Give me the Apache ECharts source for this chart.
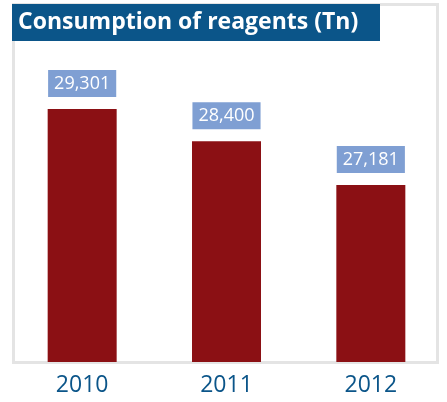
<!DOCTYPE html>
<html>
<head>
<meta charset="utf-8">
<script src="https://cdn.jsdelivr.net/npm/echarts@6/dist/echarts.min.js"></script>
<style>
  html, body { margin: 0; padding: 0; background: #fff; }
  #chart { width: 447px; height: 402px; }
</style>
</head>
<body>
<div id="chart"></div>
<script>
var years = ["2010", "2011", "2012"];
var reagents = [29301, 28400, 27181];
var titleText = "Consumption of reagents (Tn)";

var chart = echarts.init(document.getElementById("chart"));

var option = {
  animation: false,
  textStyle: { fontFamily: "Open Sans" },
  grid: { left: 10, right: 4, top: 40, bottom: 40 },
  graphic: [
    {
      type: "rect",
      shape: { x: 13.5, y: 4.5, width: 424, height: 358 },
      style: { fill: "none", stroke: "#e4e4e4", lineWidth: 3 },
      z: 0
    },
    {
      type: "rect",
      shape: { x: 12, y: 4, width: 368, height: 37 },
      style: { fill: "#0b5589" },
      z: 10
    },
    {
      type: "text",
      left: 18,
      top: 11,
      style: {
        text: titleText,
        fill: "#fff",
        font: "bold 23px 'Open Sans'"
      },
      z: 11
    }
  ],
  xAxis: {
    type: "category",
    data: years,
    axisLine: { show: false },
    axisTick: { show: false },
    axisLabel: {
      color: "#0b5589",
      fontSize: 23,
      margin: 12
    }
  },
  yAxis: {
    type: "value",
    min: 22250,
    max: 31224,
    show: false,
    splitLine: { show: false }
  },
  series: [
    {
      type: "bar",
      data: reagents,
      barWidth: 69,
      itemStyle: { color: "#8b1014" },
      label: {
        show: true,
        position: "top",
        distance: 12,
        color: "#fff",
        fontSize: 18,
        lineHeight: 19,
        backgroundColor: "#7f9fd3",
        padding: [4, 6, 4, 6],
        formatter: function (p) {
          return p.value.toLocaleString("en-US");
        }
      }
    }
  ]
};

chart.setOption(option);
</script>
</body>
</html>
